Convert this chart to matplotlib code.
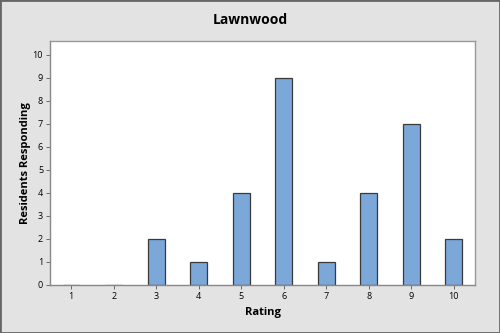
import matplotlib
matplotlib.use("Agg")
import matplotlib.pyplot as plt
from matplotlib.patches import Rectangle

ratings = [1, 2, 3, 4, 5, 6, 7, 8, 9, 10]
counts = [0, 0, 2, 1, 4, 9, 1, 4, 7, 2]
title = "Lawnwood"
xlabel = "Rating"
ylabel = "Residents Responding"

plt.rcParams['font.family'] = ['Open Sans', 'DejaVu Sans']

fig = plt.figure(figsize=(5, 3.33), dpi=100, facecolor='#e3e3e3')
ax = fig.add_axes([50/500, 1-285/333, 425/500, 244/333])
ax.set_facecolor('white')
ax.bar(ratings, counts, width=0.4, color='#7ba7d9', edgecolor='#3a3a3a', linewidth=0.9)
ax.set_xlim(0.5, 10.5)
ax.set_ylim(0, 10.6)
ax.set_xticks(ratings)
ax.set_yticks(range(0, 11))
ax.tick_params(labelsize=6.5, length=3, width=0.6, color='#555555', pad=2)
for s in ['top', 'right']:
    ax.spines[s].set_color('#999999')
for s in ['left', 'bottom']:
    ax.spines[s].set_color('#888888')
for s in ax.spines.values():
    s.set_linewidth(1)
ax.set_xlabel(xlabel, fontsize=8, fontweight='bold', labelpad=4)
ax.set_ylabel(ylabel, fontsize=8, fontweight='bold', labelpad=1)
fig.text(0.5, 1-20/333, title, ha='center', va='center', fontsize=10, fontweight='bold')
fig.patches.append(Rectangle((0, 0), 1, 1, transform=fig.transFigure, fill=False,
                             edgecolor='#666666', linewidth=2))
fig.savefig("out.png", dpi=100, facecolor=fig.get_facecolor())
